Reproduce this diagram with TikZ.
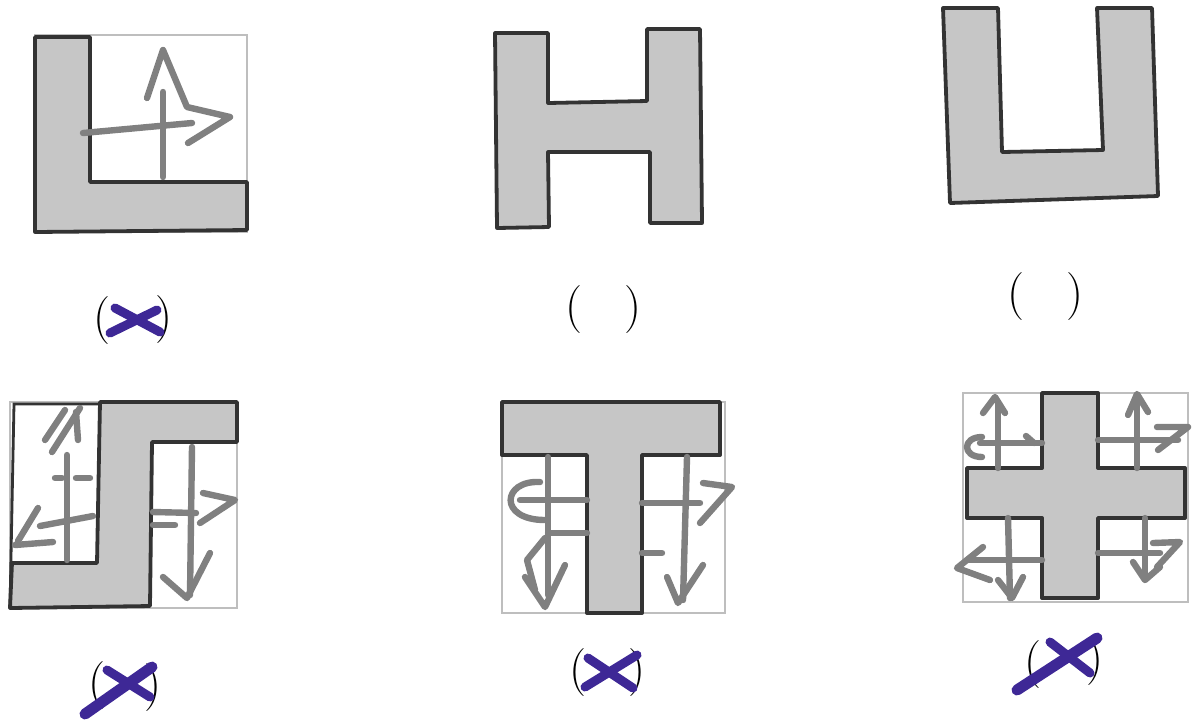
\documentclass[tikz,border=0pt]{standalone}
\definecolor{penblue}{RGB}{62,40,150}
\definecolor{shapegray}{RGB}{198,198,198}
\definecolor{pencil}{RGB}{128,128,128}
\definecolor{faint}{RGB}{190,190,190}
\tikzset{
  part/.style={fill=shapegray, draw=black!80, line width=1.9pt, line join=round},
  pen/.style={draw=pencil, line width=3.2pt, line cap=round, line join=round},
  thinbox/.style={draw=faint, line width=0.7pt},
  cross/.style={draw=penblue, line width=4.5pt, line cap=round},
  paren/.style={inner sep=0pt, font=\fontsize{24}{28}\selectfont}
}
\begin{document}
\begin{tikzpicture}[x=0.5pt,y=-0.5pt]
\useasboundingbox (0,0) rectangle (1192,720);

% ---------- Shape 1: L ----------
\draw[thinbox] (35,35) rectangle (247,232);
\draw[part] (35,37) -- (90,37) -- (90,182) -- (247,182) -- (247,230) -- (35,232) -- cycle;
\draw[pen] (163,177) -- (163,92);
\draw[pen] (147,98) -- (163,50) -- (187,107) -- (230,117) -- (188,143);
\draw[pen] (83,133) -- (192,123);
\node[paren] (a1) at (102,321) {(};
\node[paren] (a2) at (164,320) {)};
\draw[cross] (115,308) -- (160,332);
\draw[cross] (110,333) -- (157,310);

% ---------- Shape 2: H ----------
\draw[part] (495,33) -- (548,33) -- (548,103) -- (647,101) -- (647,29) -- (700,29) -- (702,223) -- (650,223) -- (650,152) -- (548,152) -- (549,227) -- (497,228) -- cycle;
\node[paren] (b1) at (574,310) {(};
\node[paren] (b2) at (633,310) {)};

% ---------- Shape 3: U ----------
\draw[part] (943,8) -- (998,8) -- (1002,152) -- (1103,150) -- (1097,8) -- (1152,8) -- (1158,196) -- (950,203) -- cycle;
\node[paren] (c1) at (1016,297) {(};
\node[paren] (c2) at (1075,297) {)};

% ---------- Shape 4 ----------
\draw[thinbox] (10,402) rectangle (237,608);
\draw[draw=black!80, line width=1.4pt] (100,404) -- (14,404) -- (10,608);
\draw[part] (100,402) -- (237,402) -- (237,442) -- (152,442) -- (150,606) -- (10,608) -- (12,563) -- (97,563) -- cycle;
% left pencil marks
\draw[pen] (67,455) -- (67,560);
\draw[pen] (45,440) -- (65,410);
\draw[pen] (52,452) -- (80,408);
\draw[pen] (76,412) -- (78,440);
\draw[pen] (55,478) -- (62,478);
\draw[pen] (76,478) -- (90,478);
\draw[pen] (93,516) -- (40,526);
\draw[pen] (38,508) -- (18,541);
\draw[pen] (15,545) -- (53,542);
% right pencil marks
\draw[pen] (192,447) -- (190,595);
\draw[pen] (163,577) -- (187,598) -- (210,553);
\draw[pen] (153,512) -- (196,513);
\draw[pen] (153,525) -- (175,525);
\draw[pen] (203,493) -- (235,500) -- (200,523);
\node[paren] (d1) at (97,686) {(};
\node[paren] (d2) at (153,688) {)};
\draw[cross, line width=5.5pt] (85,714) -- (152,667);
\draw[cross] (107,670) -- (150,697);

% ---------- Shape 5: T ----------
\draw[thinbox] (502,402) rectangle (725,613);
\draw[part] (502,402) -- (720,402) -- (720,455) -- (642,455) -- (642,613) -- (587,613) -- (587,455) -- (502,455) -- cycle;
\draw[pen] (548,457) -- (548,595);
\draw[pen] (525,577) -- (545,607) -- (565,565);
\draw[pen] (540,482) .. controls (502,480) and (498,520) .. (545,520);
\draw[pen] (520,500) -- (587,500);
\draw[pen] (548,533) -- (587,533);
\draw[pen] (545,538) -- (527,560) -- (535,590);
\draw[pen] (687,457) -- (683,600);
\draw[pen] (667,577) -- (678,603) -- (703,565);
\draw[pen] (642,503) -- (700,503);
\draw[pen] (703,483) -- (732,487) -- (700,523);
\draw[pen] (642,553) -- (662,553);
\node[paren] (e1) at (578,673) {(};
\node[paren] (e2) at (637,673) {)};
\draw[cross] (588,658) -- (633,688);
\draw[cross] (585,687) -- (637,655);

% ---------- Shape 6: cross ----------
\draw[thinbox] (963,393) rectangle (1188,602);
\draw[part] (1042,393) -- (1098,393) -- (1098,468) -- (1185,468) -- (1185,518) -- (1098,518) -- (1098,598) -- (1042,598) -- (1042,518) -- (967,518) -- (967,468) -- (1042,468) -- cycle;
% top-left
\draw[pen] (998,468) -- (998,403);
\draw[pen] (983,413) -- (995,397) -- (1005,413);
\draw[pen] (980,443) -- (1042,443);
\draw[pen] (1026,436) -- (1034,443);
\draw[pen] (982,437) .. controls (962,437) and (962,457) .. (982,457);
% top-right
\draw[pen] (1137,468) -- (1137,400);
\draw[pen] (1128,415) -- (1137,394) -- (1148,412);
\draw[pen] (1098,440) -- (1178,440);
\draw[pen] (1157,427) -- (1188,427) -- (1158,450);
% bottom-left
\draw[pen] (1008,518) -- (1010,598);
\draw[pen] (998,580) -- (1012,598) -- (1023,577);
\draw[pen] (1042,560) -- (967,560);
\draw[pen] (983,547) -- (957,568) -- (990,580);
% bottom-right
\draw[pen] (1145,518) -- (1145,578);
\draw[pen] (1133,562) -- (1145,580) -- (1160,567);
\draw[pen] (1098,553) -- (1160,553);
\draw[pen] (1153,543) -- (1180,542) -- (1157,567);
\node[paren] (f1) at (1033,665) {(};
\node[paren] (f2) at (1095,662) {)};
\draw[cross, line width=5.5pt] (1017,690) -- (1097,638);
\draw[cross] (1050,642) -- (1090,673);
\end{tikzpicture}
\end{document}
